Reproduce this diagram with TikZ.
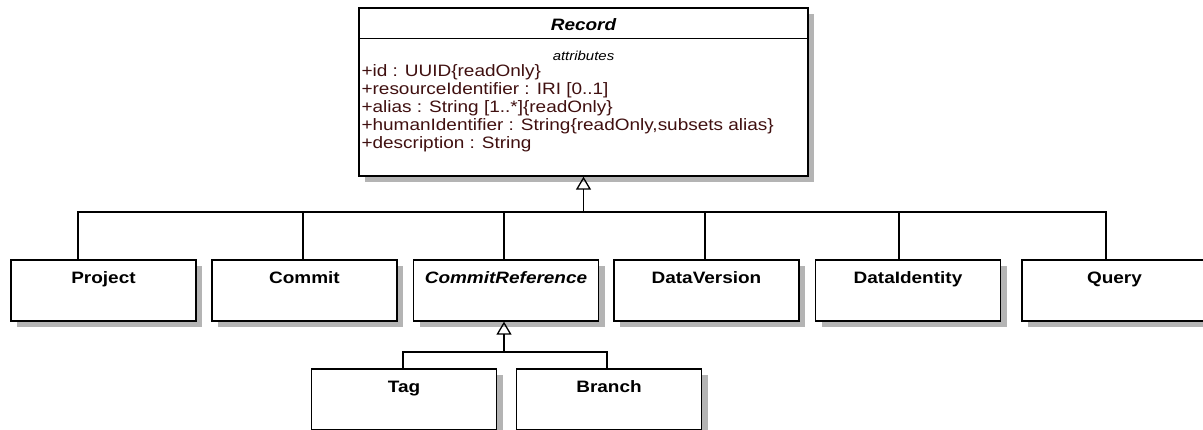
\documentclass[tikz,border=0pt]{standalone}
\usepackage{fontspec}
\setmainfont[FakeStretch=1.15]{Liberation Sans}
\usetikzlibrary{arrows.meta,shadows}
\definecolor{attrtext}{RGB}{64,16,16}
\definecolor{shade}{RGB}{180,180,180}
\tikzset{
  cls/.style={draw, line width=1.3pt, fill=white, inner sep=0pt,
    minimum width=185pt, minimum height=61pt,
    drop shadow={shadow xshift=6pt,shadow yshift=-6pt,fill=shade,opacity=1}},
  clsname/.style={anchor=base, inner sep=0pt, font=\fontsize{16.5}{18}\selectfont\bfseries},
  attr/.style={anchor=base west, inner sep=0pt, text=attrtext, font=\fontsize{16.5}{18}\selectfont},
  link/.style={line width=1.3pt},
  gen/.style={line width=1.3pt, -{Triangle[open,length=13pt,width=15pt]}}
}
\begin{document}
\begin{tikzpicture}[x=1pt,y=-1pt]
  \useasboundingbox (0,0) rectangle (1203,430);

  \node[cls, minimum width=449pt, minimum height=168pt] (record) at (583.5,92) {};
  \draw[link] ([yshift=-31pt]record.north west) -- ([yshift=-31pt]record.north east);
  \node[clsname, font=\fontsize{16.5}{18}\selectfont\bfseries\itshape] at ([yshift=-23pt]record.north) {Record};
  \node[anchor=base, inner sep=0pt, font=\fontsize{13}{14}\selectfont\itshape] at ([yshift=-53pt]record.north) {attributes};
  \node[attr] at ([xshift=3pt,yshift=-69pt]record.north west) {+id : UUID\{readOnly\}};
  \node[attr] at ([xshift=3pt,yshift=-87pt]record.north west) {+resourceIdentifier : IRI [0..1]};
  \node[attr] at ([xshift=3pt,yshift=-105pt]record.north west) {+alias : String [1..*]\{readOnly\}};
  \node[attr] at ([xshift=3pt,yshift=-123pt]record.north west) {+humanIdentifier : String\{readOnly,subsets alias\}};
  \node[attr] at ([xshift=3pt,yshift=-141pt]record.north west) {+description : String};

  \node[cls] (project) at (103.5,290.5) {};
  \node[cls] (commit) at (304.5,290.5) {};
  \node[cls] (cref) at (506,290.5) {};
  \node[cls] (dversion) at (706.5,290.5) {};
  \node[cls] (dident) at (908,290.5) {};
  \node[cls] (query) at (1114.5,290.5) {};
  \node[clsname] at ([yshift=-24pt]project.north) {Project};
  \node[clsname] at ([yshift=-24pt]commit.north) {Commit};
  \node[clsname, font=\fontsize{16.5}{18}\selectfont\bfseries\itshape] at ([yshift=-24pt]cref.north) {CommitReference};
  \node[clsname] at ([yshift=-24pt]dversion.north) {DataVersion};
  \node[clsname] at ([yshift=-24pt]dident.north) {DataIdentity};
  \node[clsname] at ([yshift=-24pt]query.north) {Query};

  \node[cls] (tag) at (404,399.5) {};
  \node[cls] (branch) at (609,399.5) {};
  \node[clsname] at ([yshift=-24pt]tag.north) {Tag};
  \node[clsname] at ([yshift=-24pt]branch.north) {Branch};

  \coordinate (g1) at (record.south |- 0,212);
  \draw[gen] (g1) -- (record.south);
  \draw[link] (g1) -| ([xshift=-25.5pt]project.north);
  \draw[link] (g1) -| ([xshift=-1.5pt]commit.north);
  \draw[link] (g1) -| ([xshift=-2pt]cref.north);
  \draw[link] (g1) -| ([xshift=-1.5pt]dversion.north);
  \draw[link] (g1) -| ([xshift=-9pt]dident.north);
  \draw[link] (g1) -| ([xshift=-8.5pt]query.north);

  \coordinate (g2) at ([xshift=-2pt]cref.south |- 0,352);
  \draw[gen] (g2) -- ([xshift=-2pt]cref.south);
  \draw[link] (g2) -| ([xshift=-1pt]tag.north);
  \draw[link] (g2) -| ([xshift=-2pt]branch.north);
\end{tikzpicture}
\end{document}
